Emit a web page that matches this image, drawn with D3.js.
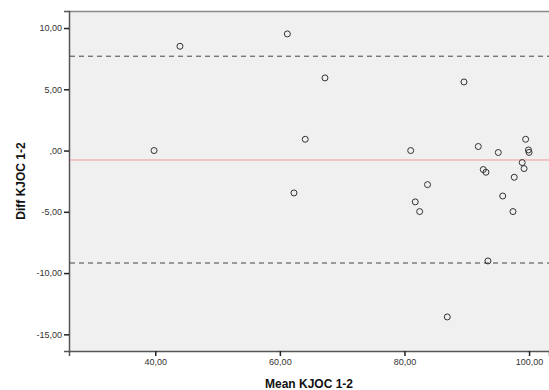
<!DOCTYPE html>
<html><head><meta charset="utf-8">
<script src="https://cdn.jsdelivr.net/npm/d3@7/dist/d3.min.js"></script>
<style>body{margin:0;background:#fff}svg{display:block}</style>
</head><body>
<svg id="c" width="549" height="390"></svg>
<script>
const meanVals = [43.96,39.8,61.2,67.24,64.07,62.26,89.55,81.0,91.85,95.06,99.45,99.9,100.0,98.9,99.2,92.65,93.08,97.62,83.7,81.73,82.44,95.77,97.42,93.4,86.87];
const diffVals = [8.51,0.0,9.52,5.93,0.92,-3.46,5.6,0.0,0.33,-0.16,0.92,0.05,-0.15,-0.98,-1.47,-1.55,-1.77,-2.18,-2.78,-4.19,-4.98,-3.71,-4.98,-9.01,-13.58];
const meanDiff = -0.77;
const upperLoA = 7.70;
const lowerLoA = -9.18;
const xTicks = [40,60,80,100];
const yTicks = [10,5,0,-5,-10,-15];
const xTitle = "Mean KJOC 1-2";
const yTitle = "Diff KJOC 1-2";

const L=69, R=549, T=11, B=351;
const x = d3.scaleLinear().domain([26.15, 103.2]).range([L, R]);
const y = d3.scaleLinear().domain([-16.36, 11.39]).range([B, T]);
const fmt = v => { let s = Math.abs(v).toFixed(2).replace('.', ','); if (s.startsWith('0,')) s = s.slice(1); return (v<0?'-':'')+s; };

const svg = d3.select('#c');
svg.append('rect').attr('x',L).attr('y',T).attr('width',R-L).attr('height',B-T).attr('fill','#f0f0f0');
svg.append('line').attr('x1',L).attr('x2',R).attr('y1',T+0.5).attr('y2',T+0.5).attr('stroke','#8a8a8a').attr('stroke-width',1.5);

const ya = svg.append('g').attr('transform',`translate(${L},0)`)
  .call(d3.axisLeft(y).tickValues(yTicks).tickFormat(fmt).tickSize(5).tickPadding(2));
const xa = svg.append('g').attr('transform',`translate(0,${B})`)
  .call(d3.axisBottom(x).tickValues(xTicks).tickFormat(fmt).tickSize(5).tickPadding(3));
[ya,xa].forEach(a=>{
  a.select('.domain').attr('stroke','#555').attr('stroke-width',1.5);
  a.selectAll('.tick line').attr('stroke','#222').attr('stroke-width',1.5);
  a.selectAll('.tick text').attr('fill','#333').style('font-family','Liberation Sans, Arial, sans-serif').style('font-size','9px');
});

const ref = [[upperLoA,'dash'],[lowerLoA,'dash'],[meanDiff,'mean']];
ref.forEach(([v,k])=>{
  svg.append('line').attr('x1',L+1).attr('x2',R).attr('y1',y(v)).attr('y2',y(v))
    .attr('stroke', k==='mean' ? '#f19a9a' : '#444').attr('stroke-width',1)
    .attr('stroke-dasharray', k==='mean' ? null : '5,4');
});

svg.append('g').selectAll('circle').data(meanVals.map((m,i)=>[m,diffVals[i]])).join('circle')
  .attr('cx',d=>x(d[0])).attr('cy',d=>y(d[1])).attr('r',3)
  .attr('fill','none').attr('stroke','#333').attr('stroke-width',1);

svg.append('text').attr('x',(L+R)/2).attr('y',388).attr('text-anchor','middle')
  .style('font-family','Liberation Sans, Arial, sans-serif').style('font-size','12px').style('font-weight','bold').attr('fill','#111').text(xTitle);
svg.append('text').attr('transform',`translate(25,${(T+B)/2}) rotate(-90)`).attr('text-anchor','middle')
  .style('font-family','Liberation Sans, Arial, sans-serif').style('font-size','12px').style('font-weight','bold').attr('fill','#111').text(yTitle);
</script>
</body></html>
